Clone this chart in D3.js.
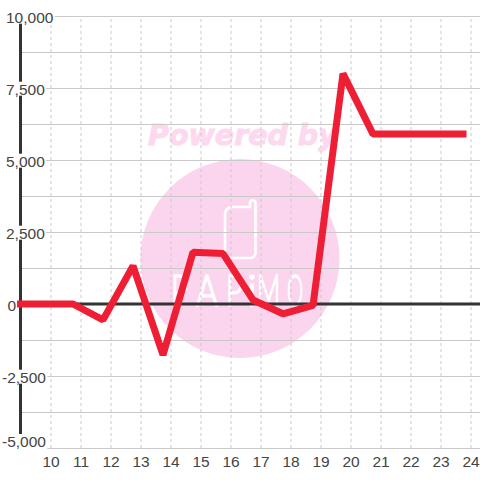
<!DOCTYPE html>
<html>
<head>
<meta charset="utf-8">
<script src="https://cdn.jsdelivr.net/npm/d3@7"></script>
<style>
html,body{margin:0;padding:0;background:#fff}
svg{display:block}
text{font-family:"Liberation Sans",Arial,sans-serif}
</style>
</head>
<body>
<svg id="chart" width="480" height="480"></svg>
<script>
const hours = [9, 9.75, 10.75, 11.75, 12.75, 13.75, 14.75, 15.75, 16.75, 17.75, 18.75, 19.75, 20.75, 21.75, 22.75, 23.75];
const balance = [0, 0, 0, -550, 1320, -1770, 1800, 1750, 140, -340, -50, 8000, 5900, 5900, 5900, 5900];
const xTicks = [10, 11, 12, 13, 14, 15, 16, 17, 18, 19, 20, 21, 22, 23, 24];
const yTicks = [10000, 7500, 5000, 2500, 0, -2500, -5000];
const yMinor = [8750, 6250, 3750, 1250, -1250, -3750];
const logoLetters = ["P", "A", "P", "i", "M", "O"];
const logoLeft = [171, 196, 226, 247, 257, 287];
const logoScale = [0.68, 0.76, 0.66, 1, 0.58, 0.46];

const svg = d3.select("#chart");
const x = d3.scaleLinear().domain([9, 24]).range([20.5, 470.5]);
const y = d3.scaleLinear().domain([-5000, 10000]).range([448, 16]);
const textCol = "#444444", gridCol = "#c9c9c9", axisCol = "#333333";
const minusFormat = v => d3.format(",")(v).replace("\u2212", "-");

// watermark
const wm = svg.append("g");
wm.append("circle").attr("cx", 240).attr("cy", 258.5).attr("r", 99.5).attr("fill", "#fbd5ee");
wm.append("text").attr("x", 148).attr("y", 144.5).attr("font-size", 28.5).attr("font-weight", "bold")
  .attr("font-style", "italic").attr("fill", "#fdd9ef").attr("stroke", "#fdd9ef").attr("stroke-width", 1)
  .style("font-family", "'DejaVu Sans',sans-serif").text("Powered by");
wm.append("path")
  .attr("d", "M232 207H250V203A2.5 2.5 0 0 1 255.5 203V253A5 5 0 0 1 250.5 258H230A5 5 0 0 1 225 253V214A7 7 0 0 1 232 207Z")
  .attr("fill", "none").attr("stroke", "#fff").attr("stroke-width", 2.6);
logoLetters.forEach((c, i) => {
  wm.append("text").attr("transform", `translate(${logoLeft[i]},306) scale(${logoScale[i]},1)`)
    .attr("font-size", 44).attr("fill", "#fff").attr("stroke", "#fff").attr("stroke-width", 1.6)
    .style("font-family", "'Lato','Liberation Sans',sans-serif").style("font-weight", 300).text(c);
});

// grid
const hGrid = svg.append("g").attr("transform", "translate(20,0)");
hGrid.call(d3.axisLeft(y).tickValues(yTicks.concat(yMinor)).tickSize(-460).tickFormat(""));
hGrid.select(".domain").remove();
hGrid.selectAll("line").attr("stroke", gridCol).attr("stroke-width", 1.2);

const vGrid = svg.append("g").attr("transform", "translate(0,448)");
vGrid.call(d3.axisBottom(x).tickValues(xTicks).tickSize(-432).tickFormat(""));
vGrid.select(".domain").remove();
vGrid.selectAll("line").attr("stroke", gridCol).attr("stroke-dasharray", "3,3");

// axes
svg.append("line").attr("x1", 20.5).attr("x2", 20.5).attr("y1", y(10000)).attr("y2", y(-5000))
  .attr("stroke", axisCol).attr("stroke-width", 3);
svg.append("line").attr("x1", 20).attr("x2", 480).attr("y1", y(0)).attr("y2", y(0))
  .attr("stroke", axisCol).attr("stroke-width", 3);

// y labels with white plates
const yAxis = svg.append("g");
yAxis.call(d3.axisLeft(y).tickValues(yTicks).tickSize(0).tickFormat(minusFormat));
yAxis.select(".domain").remove();
yAxis.selectAll("line").remove();
yAxis.selectAll("text")
  .attr("text-anchor", "start")
  .attr("font-size", 15.5).attr("fill", textCol)
  .style("font-family", "'Liberation Sans',sans-serif")
  .attr("x", d => d < 0 ? 2 : (d === 0 ? 7.5 : 6))
  .attr("dy", null)
  .attr("y", d => d === -5000 ? -1.5 : 6.2);
yAxis.selectAll(".tick").each(function(d) {
  const t = d3.select(this).select("text");
  const b = t.node().getBBox();
  d3.select(this).insert("rect", "text")
    .attr("x", b.x).attr("y", b.y + 1).attr("width", b.width + 1).attr("height", b.height - 3 + (d === -5000 ? 3 : 0))
    .attr("fill", "#fff");
});

// x labels
const xAxis = svg.append("g").attr("transform", "translate(0,448)");
xAxis.call(d3.axisBottom(x).tickValues(xTicks).tickSize(0).tickFormat(d3.format("d")));
xAxis.select(".domain").remove();
xAxis.selectAll("text").attr("font-size", 15.5).attr("fill", textCol)
  .style("font-family", "'Liberation Sans',sans-serif").attr("y", 18.5).attr("dy", null);

// line
const line = d3.line().x((d, i) => x(hours[i])).y(d => y(d));
svg.append("path").datum(balance).attr("d", line)
  .attr("fill", "none").attr("stroke", "#ee1f35").attr("stroke-width", 7)
  .attr("stroke-linecap", "square").attr("stroke-linejoin", "bevel");
</script>
</body>
</html>
